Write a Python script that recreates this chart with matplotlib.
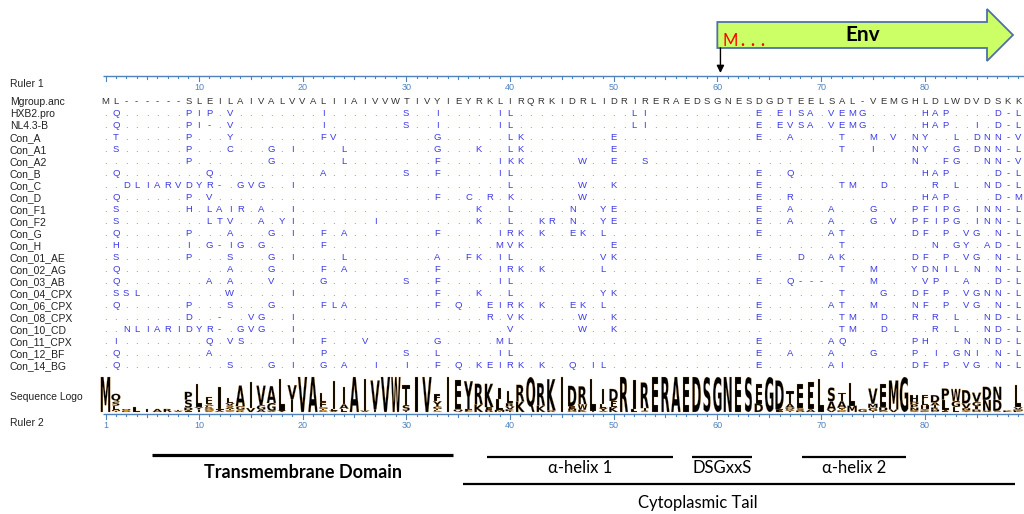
import numpy as np
import matplotlib
matplotlib.use("Agg")
import matplotlib.pyplot as plt
from matplotlib.textpath import TextPath
from matplotlib.font_manager import FontProperties
from matplotlib.patches import PathPatch, Polygon
from matplotlib.transforms import Affine2D
from collections import Counter

# ---------------- data ----------------
row_names = ["Mgroup.anc", "HXB2.pro", "NL4.3-B", "Con_A", "Con_A1", "Con_A2", "Con_B",
             "Con_C", "Con_D", "Con_F1", "Con_F2", "Con_G", "Con_H", "Con_01_AE",
             "Con_02_AG", "Con_03_AB", "Con_04_CPX", "Con_06_CPX", "Con_08_CPX",
             "Con_10_CD", "Con_11_CPX", "Con_12_BF", "Con_14_BG"]

reference = ("ML------SLEILAIVA" "LVVALIIAIVVWTIVYIEYRKLIRQR"
             "KIDRLIDRIRERAEDSGNESDGDT" "EELSAL-VEMGHLDLWDVDSKK")

variants = [
    (".Q......PIP.V...." "....I.......S..I.....IL..." "........LI..........E.EI" "SA.VEMG.....HAP....D-L"),
    (".Q......PI-.V...." "....I.......S..I.....IL..." "........LI..........E.EV" "SA.VEMG.....HAP..I.D-L"),
    (".T......P...Y...." "....FV.........G......LK.." "......E.............E..A" "....T..M.V.NY..L.DNN-V"),
    (".S......P...C...G" ".I....L........G...K..LK.." "......E................." "....T..I...NY..G.DNN-L"),
    ("........P.......G" "......L........F.....IKK.." "...W..E..S.............." "...........N..FG..NN-V"),
    (".Q........Q......" "....A.......S..F.....IL..." "....................E..Q" "............HAP....D-L"),
    ("..DLIARVDYR-.GVG." ".I....................L..." "...W..K.............E..." "....TM..D....R.L..ND-L"),
    (".Q......P.V......" "...............F..C.R.K..." "...W................E..R" "............HAP....D-M"),
    (".S......H.LAIR.A." ".I.................K..L..." "..N..YE.............E..A" "...A...G...PFIPG.INN-L"),
    (".S........LTV..A." "YI.......I.........K..L..K" "R.N..YE.............E..A" "...A...G.V.PFIPG.INN-L"),
    (".Q......P...A...G" ".I..F.A........F.....IRK.K" "..EK.L..............E..." "...AT......DF.P.VG.N-L"),
    (".H......I.G-IG.G." "....F................MVK.." "......E................." "....T........N.GY.AD-L"),
    (".S......P...S...G" ".I....L........A..FK.IL..." ".....VK.............E..." "D..AK......DF.P.VG.N-L"),
    (".Q..........A...G" "....F.A........F.....IRK.K" ".....L.................." "....T..M...YDNIL.N.N-L"),
    (".Q........A.A...V" "....G.......S..F.....IL..." "....................E..Q" "---....M....VP..A..D-L"),
    (".SSL........W...." ".I.............F...K..L..." ".....YK................." "....T...G..DF.P.VGNN-L"),
    (".Q......P...S...G" "....FLA........F.Q..EIRK.K" "..EK.L..............E..." "...AT..M...NF.P.VG.N-L"),
    ("........D..-..VG." ".I..................R.VK.." "...W..K.............E..." "....TM..D..R.R.L..ND-L"),
    ("..NLIARIDYR-.GVG." ".I....................V..." "...W..K................." "....TM..D....R.L..ND-L"),
    (".I........Q.VS..." ".I..F...V......G.....ML..." "....................E..." "...AQ......PH...N.ND-L"),
    (".Q........A......" "....P.......S..L.....IL..." "....................E..A" "...A...G...P.I.GNI.N-L"),
    (".Q..........S...G" ".I..G.A..I..I..F.Q.KEIRK.K" "..Q.IL..............E..." "...AI......DF.P.VG.N-L"),
]

ruler1_ticks = [10, 20, 30, 40, 50, 60, 70, 80]
ruler2_ticks = [1, 10, 20, 30, 40, 50, 60, 70, 80]

env_start = 60
tm_domain = ("Transmembrane Domain", 5.5, 34.5)
upper_domains = [("\u03b1-helix 1", 37.8, 55.7), ("DSGxxS", 57.6, 63.3), ("\u03b1-helix 2", 68.2, 78.2)]
tail_domain = ("Cytoplasmic Tail", 35.5, 88.7)

# ---------------- layout ----------------
W, H = 1024, 514
X1PX, COLW = 105.5, 10.37


def cx(px):
    return 1 + (px - X1PX) / COLW


ncol = len(reference)
fig = plt.figure(figsize=(W / 100, H / 100), dpi=100)
ax = fig.add_axes([0, 0, 1, 1])
ax.set_xlim(cx(0), cx(W))
ax.set_ylim(H, 0)
ax.axis("off")

LABEL_FONT = "Liberation Sans"
ANN_FONT = ["Lato", "DejaVu Sans"]
RULER_COL = "#4f81bd"
SEQ_COL = "#3a3ae6"
DOT_COL = "#8a90dc"

ROW0, ROWH = 102, 12

# row labels and alignment
for i, name in enumerate(row_names):
    y = ROW0 + i * ROWH
    ax.text(cx(10), y, name, ha="left", va="center", fontsize=7.5,
            family=LABEL_FONT, color="#222222")
    seq = reference if i == 0 else variants[i - 1]
    for c, ch in enumerate(seq):
        if i == 0:
            col = "#333333"
        elif ch == ".":
            col = DOT_COL
        else:
            col = SEQ_COL
        ax.text(c + 1, y, ch, ha="center", va="center", fontsize=6.8,
                family=LABEL_FONT, color=col)


def draw_ruler(y, ticks, label, label_y):
    ax.plot([cx(103), cx(W)], [y, y], color=RULER_COL, lw=1.0, solid_capstyle="butt")
    for c in range(1, ncol + 1):
        ln = 5 if c % 10 == 0 or c == 1 else (3 if c % 5 == 0 else 2)
        ax.plot([c, c], [y, y + ln], color=RULER_COL, lw=0.8)
    for t in ticks:
        ax.text(t, y + 11, str(t), ha="center", va="center", fontsize=6.5,
                family=LABEL_FONT, color=RULER_COL)
    ax.text(cx(10), label_y, label, ha="left", va="center", fontsize=7.5,
            family=LABEL_FONT, color="#222222")


draw_ruler(76, ruler1_ticks, "Ruler 1", 84)
draw_ruler(414, ruler2_ticks, "Ruler 2", 423)

# sequence logo
ax.text(cx(10), 397, "Sequence Logo", ha="left", va="center", fontsize=7.5,
        family=LABEL_FONT, color="#222222")
seqs = [reference] + ["".join(reference[k] if ch == "." else ch for k, ch in enumerate(v))
                      for v in variants]
nseq = len(seqs)
logo_base, logo_h = 412, 35
fp = FontProperties(family="DejaVu Sans", weight="bold")
glyphs = {}
wide = TextPath((0, 0), "M", size=1, prop=fp).get_extents().width
maxbits = np.log2(20)
for c in range(ncol):
    cnt = Counter(s[c] for s in seqs if s[c] != "-")
    tot = sum(cnt.values())
    if tot == 0:
        continue
    p = np.array(list(cnt.values()), dtype=float) / tot
    ent = -(p * np.log2(p)).sum()
    ic = maxbits - ent
    heights = {aa: n / nseq * ic / maxbits * logo_h for aa, n in cnt.items()}
    y = logo_base
    for aa, h in sorted(heights.items(), key=lambda t: t[1]):
        if h >= 0.4:
            if aa not in glyphs:
                glyphs[aa] = TextPath((0, 0), aa, size=1, prop=fp)
            tp = glyphs[aa]
            ext = tp.get_extents()
            w = 0.9 * min(1.0, ext.width / wide * 1.05)
            tr = (Affine2D().translate(-ext.x0, -ext.y0)
                  .scale(w / ext.width, -h / ext.height)
                  .translate(c + 1 - w / 2, y))
            ax.add_patch(PathPatch(tr.transform_path(tp), facecolor="black",
                                   edgecolor="#e3962e", lw=0.15))
        y -= h

# Env arrow
verts = [(env_start, 22), (cx(987), 22), (cx(987), 9), (cx(1013), 35),
         (cx(987), 61), (cx(987), 48), (env_start, 48)]
ax.add_patch(Polygon(verts, closed=True, facecolor="#ccff66", edgecolor="#4f6fa8", lw=1.3))
ax.text(cx(863), 35, "Env", ha="center", va="center", fontsize=15, fontweight="bold",
        family=ANN_FONT, color="black")
ax.text(cx(723), 41, "M", ha="left", va="center", fontsize=12, family=ANN_FONT, color="red")
for dpx in (742, 752, 762):
    ax.text(cx(dpx), 41, ".", ha="center", va="center", fontsize=12, family=ANN_FONT,
            color="red", fontweight="bold")
ax.annotate("", xy=(env_start + 0.3, 73), xytext=(env_start + 0.3, 48),
            arrowprops=dict(arrowstyle="-|>", color="black", lw=1.0, mutation_scale=11,
                            shrinkA=0, shrinkB=0))

# domain annotations
name, s, e = tm_domain
ax.plot([s, e], [455, 455], color="black", lw=2.3, solid_capstyle="butt")
ax.text((s + e) / 2, 472, name, ha="center", va="center", fontsize=13, fontweight="bold",
        family=ANN_FONT, color="black")
for name, s, e in upper_domains:
    ax.plot([s, e], [457, 457], color="black", lw=1.6, solid_capstyle="butt")
    ax.text((s + e) / 2, 468, name, ha="center", va="center", fontsize=12,
            family=ANN_FONT, color="black")
name, s, e = tail_domain
ax.plot([s, e], [484, 484], color="black", lw=1.6, solid_capstyle="butt")
ax.text(cx(698), 503, name, ha="center", va="center", fontsize=12,
        family=ANN_FONT, color="black")

fig.savefig("out.png", dpi=100, facecolor="white")
